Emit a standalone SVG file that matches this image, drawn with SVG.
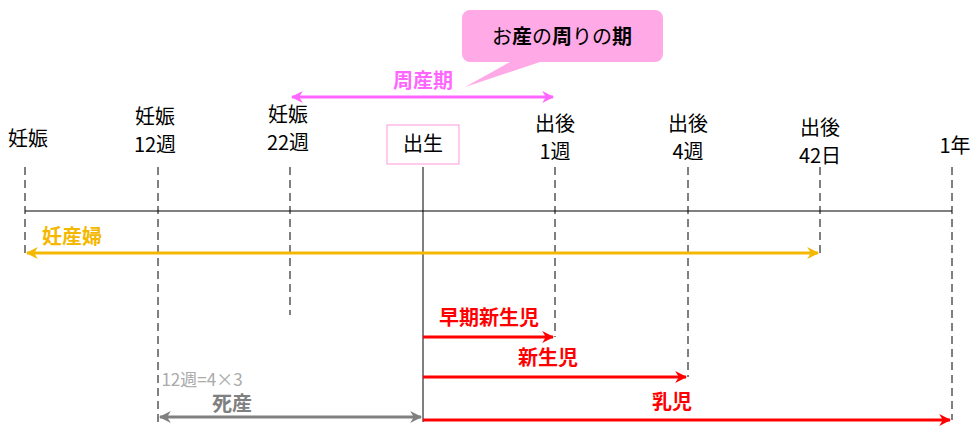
<svg xmlns="http://www.w3.org/2000/svg" width="974" height="433" viewBox="0 0 974 433">
<style>
text{font-family:"Noto Sans CJK JP","Noto Sans",sans-serif;}
.lb{font-size:20px;fill:#000;text-anchor:middle;}
.b{font-weight:bold;font-size:20px;text-anchor:middle;}
.d{stroke:#000;stroke-width:1;stroke-dasharray:8,5;fill:none;}
</style>
<defs>
<marker id="ao" viewBox="0 0 10 10" refX="9" refY="5" markerWidth="4" markerHeight="4" orient="auto-start-reverse"><path d="M0,0L10,5L0,10L3,5z" fill="#f5b800"/></marker>
<marker id="ap" viewBox="0 0 10 10" refX="9" refY="5" markerWidth="4" markerHeight="4" orient="auto-start-reverse"><path d="M0,0L10,5L0,10L3,5z" fill="#ff66ff"/></marker>
<marker id="ar" viewBox="0 0 10 10" refX="9" refY="5" markerWidth="4" markerHeight="4" orient="auto-start-reverse"><path d="M0,0L10,5L0,10L3,5z" fill="#ff0000"/></marker>
<marker id="ag" viewBox="0 0 10 10" refX="9" refY="5" markerWidth="4" markerHeight="4" orient="auto-start-reverse"><path d="M0,0L10,5L0,10L3,5z" fill="#808080"/></marker>
</defs>
<g id="connectors">
<line x1="25" y1="211" x2="952" y2="211" stroke="#000" stroke-width="1"/>
<line class="d" x1="25" y1="167" x2="25" y2="255"/>
<line class="d" x1="158" y1="167" x2="158" y2="422"/>
<line class="d" x1="290" y1="167" x2="290" y2="315"/>
<line x1="423" y1="167" x2="423" y2="422" stroke="#000" stroke-width="1"/>
<line class="d" x1="555" y1="167" x2="555" y2="337"/>
<line class="d" x1="688" y1="167" x2="688" y2="377"/>
<line class="d" x1="820" y1="167" x2="820" y2="253"/>
<line class="d" x1="952" y1="167" x2="952" y2="420"/>
<line x1="27" y1="253" x2="818" y2="253" stroke="#f5b800" stroke-width="3" marker-start="url(#ao)" marker-end="url(#ao)"/>
<line x1="292" y1="97" x2="553" y2="97" stroke="#ff66ff" stroke-width="3" marker-start="url(#ap)" marker-end="url(#ap)"/>
<line x1="423" y1="337" x2="553" y2="337" stroke="#ff0000" stroke-width="3" marker-end="url(#ar)"/>
<line x1="423" y1="377" x2="686" y2="377" stroke="#ff0000" stroke-width="3" marker-end="url(#ar)"/>
<line x1="423" y1="420" x2="950" y2="420" stroke="#ff0000" stroke-width="3" marker-end="url(#ar)"/>
<line x1="160" y1="417" x2="421" y2="417" stroke="#808080" stroke-width="3" marker-start="url(#ag)" marker-end="url(#ag)"/>
</g>
<g id="callout">
<path d="M470,10H655a8,8 0 0 1 8,8V54a8,8 0 0 1 -8,8H540L465,87L510,62H470a8,8 0 0 1 -8,-8V18a8,8 0 0 1 8,-8z" fill="#ffaae6"/>
<text x="562" y="44" class="lb">お<tspan font-weight="bold">産</tspan>の<tspan font-weight="bold">周</tspan>り<tspan>の</tspan><tspan font-weight="bold">期</tspan></text>
</g>
<g id="labels">
<text x="28" y="146" class="lb">妊娠</text>
<text x="155" y="124" class="lb">妊娠</text><text x="155" y="152" class="lb">12週</text>
<text x="288" y="122" class="lb">妊娠</text><text x="288" y="150" class="lb">22週</text>
<g id="birth"><rect x="387" y="125" width="72" height="39" fill="#fff" stroke="#ff99dd" stroke-width="1"/><text x="423" y="151" class="lb">出生</text></g>
<text x="555" y="131" class="lb">出後</text><text x="555" y="159" class="lb">1週</text>
<text x="688" y="131" class="lb">出後</text><text x="688" y="159" class="lb">4週</text>
<text x="820" y="135" class="lb">出後</text><text x="820" y="163" class="lb">42日</text>
<text x="955" y="153" class="lb">1年</text>
<text x="423" y="88" class="b" fill="#ff66ff">周産期</text>
<text x="72" y="244" class="b" fill="#f5b800">妊産婦</text>
<text x="489" y="325" class="b" fill="#ff0000">早期新生児</text>
<text x="548" y="365" class="b" fill="#ff0000">新生児</text>
<text x="672" y="409" class="b" fill="#ff0000">乳児</text>
<text x="202" y="386" font-size="17" fill="#aaaaaa" text-anchor="middle">12週=4×3</text>
<text x="232" y="411" class="b" fill="#808080">死産</text>
</g>
</svg>
